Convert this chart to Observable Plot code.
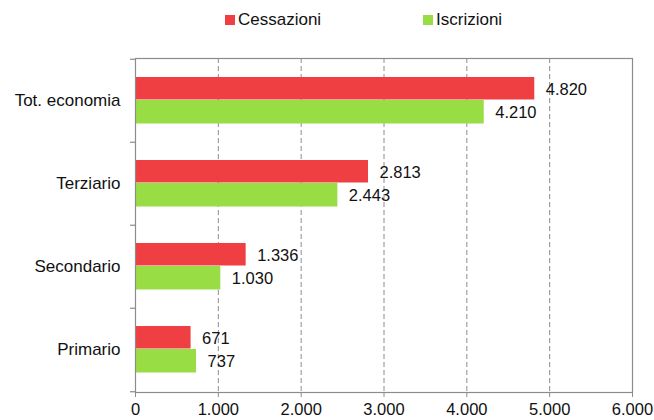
<!DOCTYPE html>
<html>
<head>
<meta charset="utf-8">
<script src="https://cdn.jsdelivr.net/npm/d3@7"></script>
<script src="https://cdn.jsdelivr.net/npm/@observablehq/plot@0.6"></script>
<style>
  body { margin: 0; background: #fff; font-family: "Liberation Sans", Arial, sans-serif; }
  #legend { position: relative; height: 40px; width: 654px; font-size: 17px; color: #111; }
  .item { position: absolute; top: 10px; display: flex; align-items: center; }
  .sw { width: 10px; height: 10px; margin-right: 3px; }
</style>
</head>
<body>
<div id="legend"></div>
<div id="chart"></div>
<script>
const categories = ["Tot. economia", "Terziario", "Secondario", "Primario"];
const cessazioni = [4820, 2813, 1336, 671];
const iscrizioni = [4210, 2443, 1030, 737];
const xTicks = [0, 1000, 2000, 3000, 4000, 5000, 6000];
const series = [
  {name: "Cessazioni", color: "#ef3f42", left: 225},
  {name: "Iscrizioni", color: "#99dd45", left: 423}
];

const it = d3.formatLocale({decimal: ",", thousands: ".", grouping: [3], currency: ["", "€"]});
const fmt = it.format(",d");

const legend = document.getElementById("legend");
for (const s of series) {
  const el = document.createElement("div");
  el.className = "item";
  el.style.left = s.left + "px";
  el.innerHTML = `<span class="sw" style="background:${s.color}"></span><span>${s.name}</span>`;
  legend.appendChild(el);
}

const ces = categories.map((c, i) => ({cat: c, v: cessazioni[i]}));
const isc = categories.map((c, i) => ({cat: c, v: iscrizioni[i]}));

const H = 380, mt = 18, mb = 28;
const band = (H - mt - mb) / categories.length;
const gray = "#8c8c8c";

const chart = Plot.plot({
  width: 654,
  height: H,
  marginTop: mt,
  marginBottom: mb,
  marginLeft: 135,
  marginRight: 22,
  style: {fontFamily: "Liberation Sans, Arial, sans-serif", fontSize: "16.5px", color: "#111", background: "#fff"},
  x: {domain: [0, 6000]},
  y: {domain: categories, padding: 0, label: null},
  marks: [
    Plot.ruleX(xTicks.slice(1, -1), {stroke: gray, strokeDasharray: "5,3", strokeWidth: 1}),
    Plot.barX(ces, {x: "v", y: "cat", fill: series[0].color, insetTop: 18, insetBottom: band - 41}),
    Plot.barX(isc, {x: "v", y: "cat", fill: series[1].color, insetTop: 41, insetBottom: band - 65}),
    Plot.frame({stroke: gray, strokeWidth: 1.2}),
    Plot.ruleY(categories, {y: d => d, x1: -60, x2: 0, dy: -band / 2, stroke: gray, strokeWidth: 1.2, clip: false}),
    Plot.ruleY(categories.slice(-1), {y: d => d, x1: -60, x2: 0, dy: band / 2, stroke: gray, strokeWidth: 1.2, clip: false}),
    Plot.text(ces, {x: "v", y: "cat", text: d => fmt(d.v), dx: 11, dy: -11.5, textAnchor: "start", fill: "#111", fontSize: 16.5}),
    Plot.text(isc, {x: "v", y: "cat", text: d => fmt(d.v), dx: 11, dy: 11.5, textAnchor: "start", fill: "#111", fontSize: 16.5}),
    Plot.axisY({tickSize: 0, tickPadding: 15, label: null, fontSize: 17}),
    Plot.axisX({ticks: xTicks, tickFormat: fmt, tickSize: 5, tickPadding: 6, stroke: gray, label: null, fontSize: 16.5})
  ]
});
document.getElementById("chart").appendChild(chart);
</script>
</body>
</html>
